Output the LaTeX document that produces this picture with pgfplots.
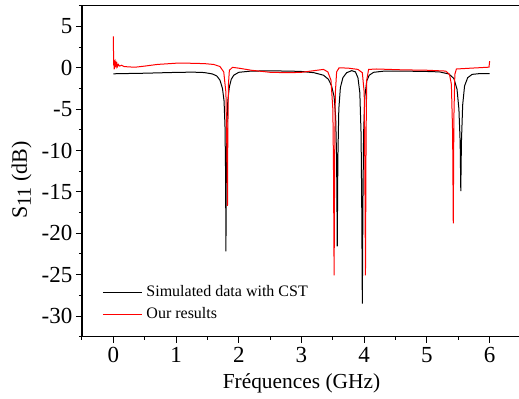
\documentclass[border=0pt]{standalone}
\usepackage{fontspec}
\setmainfont{Liberation Serif}
\usepackage{pgfplots}
\pgfplotsset{compat=1.18}
\begin{document}
\begin{tikzpicture}
\begin{axis}[
  name=ax,
  at={(0,0)}, anchor=south west,
  scale only axis,
  width=219.5pt, height=165.5pt,
  xmin=-0.5, xmax=6.5, ymin=-32.5, ymax=7.5,
  xtick={0,1,2,3,4,5,6}, ytick={-30,-25,-20,-15,-10,-5,0,5},
  minor xtick={-0.5,0.5,1.5,2.5,3.5,4.5,5.5},
  minor ytick={-32.5,-27.5,-22.5,-17.5,-12.5,-7.5,-2.5,2.5,7.5},
  xtick pos=bottom, ytick pos=left,
  tick align=outside,
  major tick length=3pt, minor tick length=1.6pt,
  every tick/.style={black, line width=0.5pt},
  axis line style={line width=0.6pt},
  /pgf/number format/assume math mode=true,
  tick label style={font=\fontsize{11.5}{13}\selectfont},
  yticklabel style={inner xsep=1.6pt},
  xticklabel style={inner ysep=2pt},
  label style={font=\fontsize{10.7}{12}\selectfont},
  xlabel={Fréquences (GHz)},
  ylabel={S\raisebox{-2pt}{\fontsize{10}{11}\selectfont 11} (dB)},
  xlabel style={yshift=-0.2pt},
  ylabel style={at={(ticklabel cs:0.473)}, font=\fontsize{11}{12}\selectfont},
  legend cell align=left,
  legend style={draw=none, fill=none, font=\fontsize{8}{10}\selectfont,
    at={(axis description cs:0.04,0.03)}, anchor=south west,
    xshift=-1.75pt, yshift=-1.5pt, row sep=0pt},
  legend image code/.code={\draw[#1] (0pt,0pt) -- (19.5pt,0pt);},
]
\addplot[black, line width=0.5pt] coordinates {
(0.00,-0.73) (0.2,-0.70) (0.5,-0.66) (0.8,-0.60) (1.0,-0.56) (1.27,-0.53)
(1.45,-0.58) (1.58,-0.75) (1.65,-1.0) (1.70,-1.5) (1.74,-2.5) (1.765,-4)
(1.78,-7) (1.79,-13) (1.795,-22.2) (1.80,-14) (1.81,-7) (1.825,-4)
(1.85,-2.3) (1.88,-1.4) (1.92,-0.9) (2.0,-0.55) (2.2,-0.4) (2.5,-0.38)
(2.8,-0.4) (3.0,-0.45) (3.2,-0.6) (3.35,-0.9) (3.43,-1.4) (3.48,-2.2)
(3.52,-3.5) (3.545,-6) (3.56,-11) (3.57,-21.6) (3.58,-11) (3.595,-5)
(3.62,-2.4) (3.66,-1.2) (3.72,-0.6) (3.8,-0.35) (3.86,-0.5) (3.90,-1.2)
(3.93,-3) (3.95,-8) (3.96,-16) (3.97,-28.5) (3.98,-16) (3.99,-8)
(4.01,-3.5) (4.04,-1.6) (4.08,-0.9) (4.15,-0.55) (4.3,-0.42) (4.6,-0.4)
(5.0,-0.45) (5.2,-0.5) (5.35,-0.75) (5.43,-1.3) (5.48,-2.6) (5.51,-5)
(5.53,-9) (5.54,-14.9) (5.55,-9) (5.57,-4.5) (5.6,-2.2) (5.65,-1.2)
(5.72,-0.8) (5.85,-0.7) (6.0,-0.7)
};
\addlegendentry{Simulated data with CST}
\addplot[red, line width=0.5pt] coordinates {
(0.000,3.8) (0.003,1.5) (0.006,0.3) (0.010,1.0) (0.014,-0.2) (0.018,0.9)
(0.022,0.0) (0.027,0.7) (0.033,0.1) (0.040,0.6) (0.048,0.2) (0.057,0.5)
(0.067,0.15) (0.08,0.4) (0.10,0.2) (0.13,0.3) (0.17,0.15) (0.25,0.1)
(0.35,0.07) (0.5,0.2) (0.7,0.4) (1.0,0.55) (1.2,0.55) (1.45,0.5)
(1.6,0.4) (1.7,0.15) (1.76,-0.5) (1.795,-3) (1.81,-10) (1.82,-16.7)
(1.825,-8) (1.835,-2) (1.85,-0.3) (1.9,0.05) (2.0,-0.05) (2.2,-0.3)
(2.5,-0.55) (2.8,-0.6) (3.0,-0.55) (3.2,-0.35) (3.35,-0.2) (3.42,-0.5)
(3.47,-1.5) (3.50,-5) (3.51,-12) (3.52,-25.1) (3.53,-10) (3.54,-3)
(3.56,-0.5) (3.6,0.0) (3.75,-0.05) (3.9,-0.2) (3.97,-0.6) (4.00,-3)
(4.01,-12) (4.02,-25.1) (4.03,-8) (4.04,-1.5) (4.07,-0.2) (4.2,-0.15)
(4.6,-0.25) (5.0,-0.3) (5.3,-0.4) (5.36,-0.8) (5.39,-2) (5.41,-8)
(5.42,-18.8) (5.43,-6) (5.445,-0.8) (5.47,-0.15) (5.7,-0.05) (5.99,0.07)
(6.0,0.8)
};
\addlegendentry{Our results}
\end{axis}
\pgfresetboundingbox
\path[use as bounding box] ([shift={(-41pt,-31.15pt)}]ax.south west) rectangle ([shift={(-1pt,2.85pt)}]ax.north east);
\end{tikzpicture}
\end{document}
